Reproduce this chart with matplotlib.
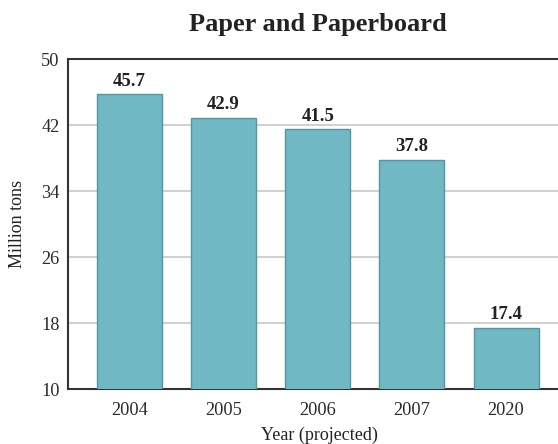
import matplotlib.pyplot as plt

# data
years = ['2004', '2005', '2006', '2007', '2020']
tons = [45.7, 42.9, 41.5, 37.8, 17.4]
yticks = [10, 18, 26, 34, 42, 50]

plt.rcParams['font.family'] = ['Liberation Serif', 'DejaVu Serif']

fig = plt.figure(figsize=(5.58, 4.44), dpi=100)
ax = fig.add_axes([68 / 558, 1 - 389 / 444, 1 - 68 / 558, (389 - 59) / 444])

x = range(len(years))
bars = ax.bar(x, tons, width=0.69, color='#6fb8c4', edgecolor='#5496a2',
              linewidth=1.0, zorder=3)
for xi, v in zip(x, tons):
    ax.text(xi, v + 0.55, f'{v}', ha='center', va='bottom',
            fontsize=13.5, fontweight='bold', color='#222222')

ax.set_ylim(10, 50)
ax.set_xlim(-0.6525, 4.552)
ax.set_yticks(yticks)
ax.set_xticks(list(x))
ax.set_xticklabels(years)
ax.tick_params(length=0, labelsize=13.2, colors='#2a2a2a')
ax.tick_params(axis='x', pad=9)
ax.tick_params(axis='y', pad=6)
ax.yaxis.grid(True, color='#c8c8c8', linewidth=1.2, zorder=0)

ax.spines['right'].set_visible(False)
for s in ['left', 'bottom', 'top']:
    ax.spines[s].set_color('#333333')
    ax.spines[s].set_linewidth(1.5)

fig.text(318 / 558, 1 - 24 / 444, 'Paper and Paperboard', ha='center',
         va='center', fontsize=19, fontweight='bold', color='#222222')
fig.text(18 / 558, 1 - 224 / 444, 'Million tons', ha='center', va='center',
         rotation=90, fontsize=13, color='#222222')
fig.text(319 / 558, 1 - 435 / 444, 'Year (projected)', ha='center',
         va='center', fontsize=13, color='#222222')

fig.savefig('out.png', dpi=100)
